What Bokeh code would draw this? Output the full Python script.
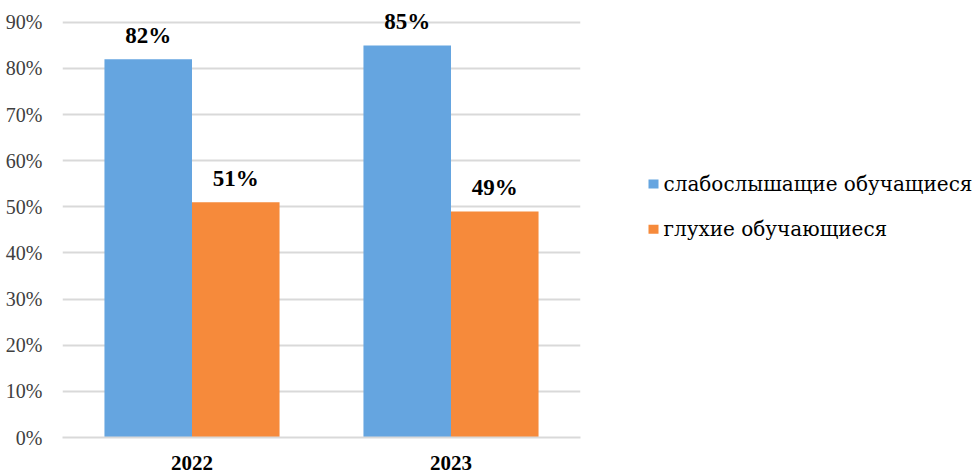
from bokeh.plotting import figure
from bokeh.layouts import row
from bokeh.core.properties import value
from bokeh.models import ColumnDataSource, FactorRange, LabelSet, Label, NumeralTickFormatter, FixedTicker, Range1d
from bokeh.transform import dodge
from bokeh.embed import file_html
from bokeh.resources import INLINE

years = ["2022", "2023"]
hard_of_hearing = [0.82, 0.85]
deaf = [0.51, 0.49]
series_names = ["слабослышащие обучащиеся", "глухие обучающиеся"]
yticks = [0.0, 0.1, 0.2, 0.3, 0.4, 0.5, 0.6, 0.7, 0.8, 0.9]

blue = "#65A5E0"
orange = "#F68A3B"
font = "Liberation Serif"
legend_font = "DejaVu Serif"

src = ColumnDataSource(dict(
    year=years,
    a=hard_of_hearing,
    b=deaf,
    a_lbl=[f"{round(v*100)}%" for v in hard_of_hearing],
    b_lbl=[f"{round(v*100)}%" for v in deaf],
))

H = 474
p = figure(width=600, height=H, x_range=FactorRange(*years), y_range=Range1d(0, 0.93),
           output_backend="svg", toolbar_location=None,
           min_border_left=62, min_border_top=8, min_border_bottom=37, min_border_right=20)
p.outline_line_color = None
p.background_fill_color = "white"

p.vbar(x=dodge("year", -0.169, range=p.x_range), top="a", width=0.338, source=src,
       fill_color=blue, line_color=None)
p.vbar(x=dodge("year", 0.169, range=p.x_range), top="b", width=0.338, source=src,
       fill_color=orange, line_color=None)

for col, lbl, off in (("a", "a_lbl", -0.169), ("b", "b_lbl", 0.169)):
    ls = LabelSet(x=dodge("year", off, range=p.x_range), y=col, text=lbl, source=src,
                  text_align="center", text_baseline="alphabetic", y_offset=16,
                  text_font=value(font), text_font_style="bold", text_font_size="23px",
                  text_color="black")
    p.add_layout(ls)

p.yaxis.ticker = FixedTicker(ticks=yticks)
p.yaxis.formatter = NumeralTickFormatter(format="0%")
p.yaxis.axis_line_color = None
p.yaxis.major_tick_line_color = None
p.yaxis.minor_tick_line_color = None
p.yaxis.major_label_text_font = font
p.yaxis.major_label_text_font_size = "20px"
p.yaxis.major_label_text_color = "#404040"
p.yaxis.major_label_standoff = 14

p.xaxis.axis_line_color = "#D9D9D9"
p.xaxis.axis_line_width = 2
p.xaxis.major_tick_line_color = None
p.xaxis.minor_tick_line_color = None
p.xaxis.major_label_text_font = font
p.xaxis.major_label_text_font_style = "bold"
p.xaxis.major_label_text_font_size = "21px"
p.xaxis.major_label_text_color = "black"
p.xaxis.major_label_standoff = 12

p.xgrid.grid_line_color = None
p.ygrid.grid_line_color = "#D9D9D9"
p.ygrid.grid_line_width = 2

# legend panel
QW = 376
q = figure(width=QW, height=H, x_range=Range1d(0, QW), y_range=Range1d(0, H),
           output_backend="svg", toolbar_location=None, title=None,
           x_axis_location=None, y_axis_location=None,
           min_border_left=0, min_border_right=0, min_border_top=0, min_border_bottom=0)
q.grid.grid_line_color = None
q.outline_line_color = None

legend_colors = [blue, orange]
legend_y = [280, 230]          # legend rows in the panel's own units
q.rect(x=[53, 53], y=legend_y, width=10, height=10, fill_color=legend_colors, line_color=None)
for name, yy in zip(series_names, legend_y):
    q.add_layout(Label(x=63, y=yy, text=name, text_baseline="middle", text_align="left",
                       text_font=legend_font, text_font_size="20px", text_color="black"))

layout = row(p, q, spacing=0)
open("out.html", "w").write(file_html(layout, INLINE))
